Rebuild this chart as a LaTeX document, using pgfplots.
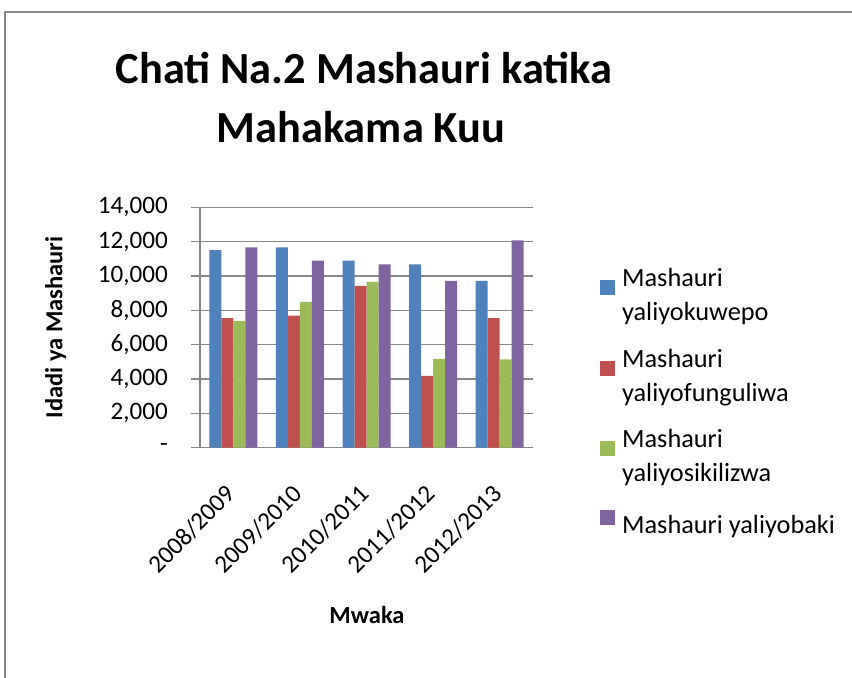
\documentclass[border=0pt]{standalone}
\usepackage{pgfplots}
\pgfplotsset{compat=1.18}
\usepackage{fontspec}
\setmainfont{Carlito}
\definecolor{cblue}{HTML}{4F81BD}
\definecolor{cred}{HTML}{C0504D}
\definecolor{cgreen}{HTML}{9BBB59}
\definecolor{cpurple}{HTML}{8064A2}
\definecolor{cgrid}{HTML}{878787}
\begin{document}
\begin{tikzpicture}[x=1bp,y=1bp]
\path[use as bounding box] (0,0) rectangle (852,678);
\draw[line width=1.5bp, color=cgrid] (5,0) -- (5,666) -- (852,666);
\node[font=\fontsize{44.6}{53}\bfseries\selectfont, anchor=base, inner sep=0pt] at (364,594) {Chati Na.2 Mashauri katika};
\node[font=\fontsize{44.6}{53}\bfseries\selectfont, anchor=base, inner sep=0pt] at (361,535) {Mahakama Kuu};
\begin{axis}[
  at={(200bp,230.3bp)}, anchor=south west,
  scale only axis, width=333bp, height=240.4bp,
  xmin=-0.5, xmax=4.5, ymin=0, ymax=14000,
  ybar=0pt, bar width=12bp,
  axis x line*=bottom, axis y line*=left,
  axis line style={draw=cgrid, line width=1.5bp},
  scaled y ticks=false,
  xtick={0,1,2,3,4},
  xticklabels={2008/2009,2009/2010,2010/2011,2011/2012,2012/2013},
  ytick={0,2000,4000,6000,8000,10000,12000,14000},
  yticklabels={{-\hspace{10bp}},{2,000},{4,000},{6,000},{8,000},{10,000},{12,000},{14,000}},
  ymajorgrids, grid style={draw=cgrid, line width=1.5bp},
  tick align=outside,
  xtick style={draw=none},
  ytick style={draw=cgrid, line width=1.5bp},
  major tick length=9bp,
  ticklabel style={font=\fontsize{25.2}{30}\selectfont},
  yticklabel style={inner sep=0pt, xshift=-23bp},
  xticklabel style={inner sep=0pt, xshift=-2bp, yshift=-33bp, rotate=45, anchor=east},
  every axis y label/.style={at={(axis description cs:-0.433,0.5)}, rotate=90, anchor=center, font=\fontsize{24.6}{29}\bfseries\selectfont},
  every axis x label/.style={at={(axis description cs:0.5015,-0.696)}, anchor=center, font=\fontsize{24.6}{29}\bfseries\selectfont},
  ylabel={Idadi ya Mashauri},
  xlabel={Mwaka},
  legend style={at={(rel axis cs:1.192,0.755)}, anchor=north west, draw=none, fill=none,
    font=\fontsize{26.4}{34}\selectfont, row sep=27bp, column sep=7bp,
    nodes={align=left, inner sep=0pt}},
  legend cell align=left,
  legend image code/.code={\fill[#1] (0bp,0bp) rectangle (15bp,15bp);},
]
\addplot[fill=cblue, draw=none] coordinates {(0,11500) (1,11670) (2,10900) (3,10680) (4,9710)};
\addlegendentry{{Mashauri\\yaliyokuwepo}}
\addplot[fill=cred, draw=none] coordinates {(0,7550) (1,7690) (2,9420) (3,4180) (4,7540)};
\addlegendentry{{Mashauri\\yaliyofunguliwa}}
\addplot[fill=cgreen, draw=none] coordinates {(0,7380) (1,8490) (2,9650) (3,5170) (4,5150)};
\addlegendentry{{Mashauri\\yaliyosikilizwa}}
\addplot[fill=cpurple, draw=none] coordinates {(0,11670) (1,10900) (2,10680) (3,9710) (4,12080)};
\addlegendentry{Mashauri yaliyobaki}
\end{axis}
\end{tikzpicture}
\end{document}
